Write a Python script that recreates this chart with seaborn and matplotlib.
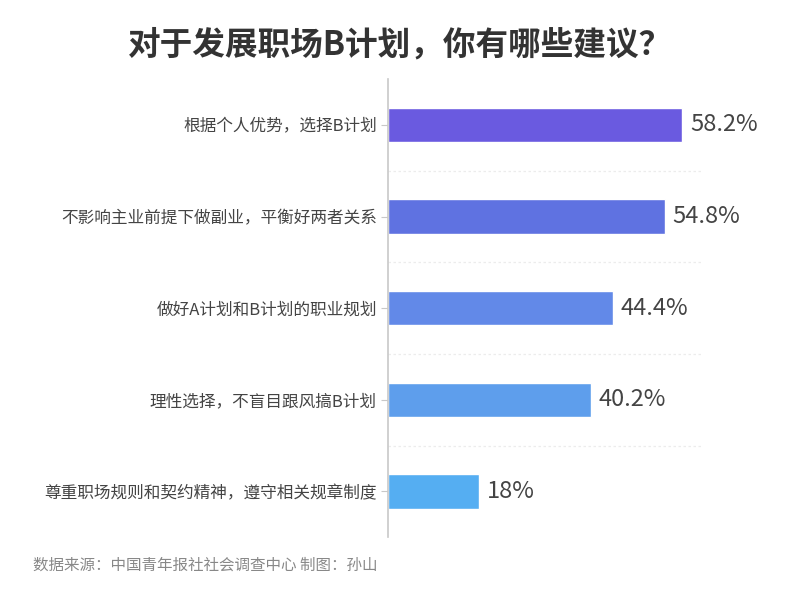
import numpy as np
import pandas as pd
import matplotlib
matplotlib.use('Agg')
import matplotlib.pyplot as plt
import seaborn as sns

# data
suggestions = ['根据个人优势，选择B计划',
               '不影响主业前提下做副业，平衡好两者关系',
               '做好A计划和B计划的职业规划',
               '理性选择，不盲目跟风搞B计划',
               '尊重职场规则和契约精神，遵守相关规章制度']
share = [58.2, 54.8, 44.4, 40.2, 18]
value_text = ['58.2%', '54.8%', '44.4%', '40.2%', '18%']
bar_colors = ['#6a5ae0', '#5f72e1', '#6289e8', '#5e9eec', '#55aef2']

df = pd.DataFrame({'建议': suggestions, '比例': share})

sns.set_style('white')
plt.rcParams['font.family'] = ['Noto Sans CJK SC', 'DejaVu Sans']

fig = plt.figure(figsize=(8, 6.09), dpi=100)
ax = fig.add_axes([0.485, 0.118, 0.392, 0.752])

sns.barplot(data=df, x='比例', y='建议', hue='建议', palette=bar_colors,
            legend=False, width=0.375, saturation=1, ax=ax, orient='h')

for i, (v, t) in enumerate(zip(share, value_text)):
    ax.text(v + 1.5, i, t, va='center', ha='left', fontsize=17,
            color='#444444', fontweight='light')

ax.set_xlim(0, 62)
ax.set_ylim(4.5, -0.5)
ax.set_xlabel('')
ax.set_ylabel('')
ax.set_xticks([])
ax.tick_params(axis='y', length=5, width=0.8, color='#c8c8c8',
               labelsize=12, labelcolor='#444444', pad=3, left=True)

# dotted separators between categories
for b in np.arange(0.5, 4.0, 1.0):
    ax.axhline(b, color='#ececec', lw=0.9, ls=(0, (2, 2)), zorder=0)

for s in ['top', 'right', 'bottom']:
    ax.spines[s].set_visible(False)
ax.spines['left'].set_color('#c8c8c8')
ax.spines['left'].set_linewidth(1.2)

fig.text(0.5, 0.926, '对于发展职场B计划，你有哪些建议？', ha='center', va='center',
         fontsize=23.5, fontweight='bold', color='#333333')
fig.text(0.041, 0.072, '数据来源：中国青年报社社会调查中心 制图：孙山', ha='left', va='center',
         fontsize=11.2, color='#888888')

fig.savefig('out.png', dpi=100, facecolor='white')
